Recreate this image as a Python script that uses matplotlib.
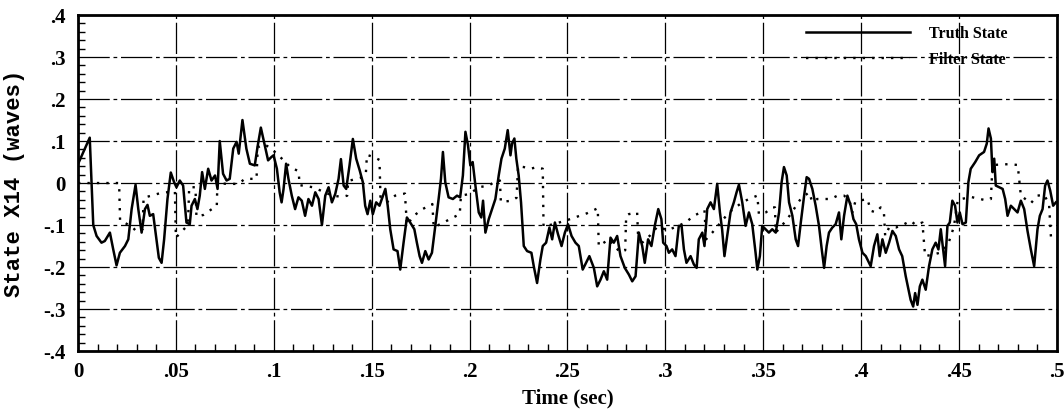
import matplotlib
matplotlib.use("Agg")
import matplotlib.pyplot as plt
import numpy as np

# truth state X14 (waves)
truth_t = [0.0, 0.006, 0.0078, 0.0095, 0.012, 0.0137, 0.0163, 0.018, 0.0197, 0.0214,
           0.024, 0.0257, 0.0274, 0.0294, 0.0308, 0.0325, 0.0342, 0.0355, 0.0367, 0.0384,
           0.0401, 0.0413, 0.0427, 0.044, 0.0457, 0.0474, 0.0491, 0.0503, 0.052, 0.0537,
           0.0554, 0.0571, 0.058, 0.0597, 0.061, 0.0622, 0.0634, 0.0648, 0.0665, 0.0682,
           0.07, 0.0713, 0.0724, 0.0741, 0.0759, 0.0775, 0.0793, 0.081, 0.0821, 0.084,
           0.086, 0.0878, 0.0903, 0.0917, 0.0934, 0.0954, 0.0971, 0.0988, 0.0999, 0.1016,
           0.103, 0.104, 0.105, 0.1063, 0.1075, 0.1092, 0.1109, 0.1126, 0.1143, 0.116,
           0.1177, 0.1195, 0.1212, 0.1229, 0.1246, 0.1263, 0.128, 0.1297, 0.1314, 0.1331,
           0.1343, 0.1357, 0.137, 0.1387, 0.1404, 0.1421, 0.1439, 0.1455, 0.1467, 0.1479,
           0.1493, 0.1506, 0.1523, 0.154, 0.1558, 0.157, 0.1582, 0.1595, 0.1612, 0.1632,
           0.1646, 0.1663, 0.168, 0.1697, 0.1718, 0.1731, 0.1745, 0.1757, 0.1774, 0.1791,
           0.1808, 0.1825, 0.1842, 0.1854, 0.1864, 0.1876, 0.1893, 0.1915, 0.1936, 0.1952,
           0.1966, 0.1979, 0.1992, 0.2004, 0.2016, 0.203, 0.2047, 0.206, 0.2069, 0.2081,
           0.2098, 0.2115, 0.2132, 0.2149, 0.2163, 0.218, 0.2195, 0.2209, 0.2217, 0.2229,
           0.2239, 0.2251, 0.2263, 0.2277, 0.2294, 0.2316, 0.2328, 0.2345, 0.2362, 0.2374,
           0.2391, 0.2408, 0.2422, 0.2436, 0.2452, 0.247, 0.2487, 0.2503, 0.2521, 0.2541,
           0.2558, 0.2578, 0.2595, 0.2612, 0.2635, 0.2652, 0.2669, 0.2686, 0.2703, 0.272,
           0.2737, 0.2754, 0.2771, 0.2793, 0.2814, 0.2831, 0.2848, 0.2865, 0.2882, 0.2895,
           0.2912, 0.2929, 0.2946, 0.2964, 0.298, 0.2989, 0.3006, 0.3018, 0.3035, 0.3052,
           0.3069, 0.3083, 0.3095, 0.3108, 0.3129, 0.3146, 0.316, 0.3171, 0.3189, 0.32,
           0.3214, 0.3231, 0.3248, 0.3265, 0.3279, 0.329, 0.3302, 0.3316, 0.3333, 0.335,
           0.3364, 0.3376, 0.3393, 0.341, 0.3427, 0.3444, 0.3461, 0.347, 0.3483, 0.3495,
           0.3512, 0.3529, 0.3546, 0.3564, 0.3581, 0.3594, 0.3606, 0.362, 0.3632, 0.3649,
           0.3666, 0.3678, 0.3692, 0.3709, 0.3722, 0.3734, 0.3751, 0.3768, 0.3785, 0.3799,
           0.3811, 0.3824, 0.3836, 0.3853, 0.387, 0.3887, 0.3899, 0.3913, 0.393, 0.3947,
           0.3961, 0.3975, 0.3989, 0.4007, 0.4024, 0.4049, 0.4066, 0.4083, 0.4095, 0.4109,
           0.4126, 0.4143, 0.416, 0.4177, 0.4194, 0.421, 0.4228, 0.4242, 0.4253, 0.4266,
           0.4276, 0.4288, 0.43, 0.4313, 0.433, 0.4347, 0.4364, 0.4381, 0.4395, 0.4407,
           0.4419, 0.4429, 0.4441, 0.4453, 0.4466, 0.448, 0.4492, 0.4504, 0.4518, 0.4535,
           0.4548, 0.456, 0.4583, 0.4603, 0.4628, 0.4642, 0.4651, 0.4663, 0.4671, 0.468,
           0.4688, 0.4706, 0.4723, 0.4736, 0.4748, 0.4765, 0.4782, 0.4799, 0.4816, 0.4833,
           0.485, 0.4867, 0.4884, 0.4901, 0.4913, 0.4927, 0.494, 0.4952, 0.4966, 0.4981,
           0.4995]
truth_x = [0.045, 0.108, -0.1, -0.126, -0.142, -0.138, -0.118, -0.158, -0.196, -0.166,
           -0.15, -0.134, -0.062, -0.004, -0.062, -0.118, -0.062, -0.052, -0.078, -0.074,
           -0.134, -0.178, -0.19, -0.134, -0.038, 0.025, 0.002, -0.01, 0.006, -0.006,
           -0.094, -0.098, -0.054, -0.038, -0.062, -0.03, 0.026, -0.014, 0.034, 0.006,
           0.018, -0.014, 0.1, 0.022, 0.006, 0.01, 0.082, 0.098, 0.07, 0.15,
           0.082, 0.046, 0.042, 0.086, 0.132, 0.09, 0.054, 0.062, 0.066, 0.034,
           -0.022, -0.046, -0.014, 0.046, 0.01, -0.03, -0.062, -0.034, -0.042, -0.078,
           -0.038, -0.054, -0.022, -0.038, -0.1, -0.03, -0.01, -0.046, -0.026, 0.01,
           0.057, -0.006, -0.014, 0.042, 0.105, 0.058, 0.03, 0.002, -0.054, -0.074,
           -0.042, -0.074, -0.046, -0.054, -0.03, -0.014, -0.054, -0.11, -0.158, -0.162,
           -0.206, -0.142, -0.082, -0.094, -0.11, -0.142, -0.174, -0.19, -0.162, -0.182,
           -0.166, -0.102, -0.038, 0.01, 0.074, 0.002, -0.034, -0.038, -0.03, -0.034,
           0.018, 0.122, 0.09, 0.042, 0.05, -0.006, -0.07, -0.082, -0.042, -0.118,
           -0.086, -0.062, -0.038, 0.018, 0.058, 0.082, 0.126, 0.066, 0.094, 0.106,
           0.058, 0.018, -0.046, -0.15, -0.162, -0.166, -0.198, -0.238, -0.182, -0.15,
           -0.142, -0.106, -0.134, -0.094, -0.122, -0.15, -0.118, -0.098, -0.126, -0.142,
           -0.15, -0.206, -0.19, -0.174, -0.202, -0.246, -0.23, -0.21, -0.23, -0.13,
           -0.142, -0.126, -0.174, -0.202, -0.218, -0.234, -0.222, -0.118, -0.15, -0.19,
           -0.134, -0.15, -0.102, -0.062, -0.086, -0.142, -0.15, -0.166, -0.158, -0.174,
           -0.102, -0.102, -0.158, -0.19, -0.174, -0.194, -0.202, -0.134, -0.118, -0.15,
           -0.062, -0.046, -0.062, -0.002, -0.07, -0.11, -0.174, -0.126, -0.07, -0.046,
           -0.022, -0.004, -0.046, -0.102, -0.07, -0.098, -0.166, -0.206, -0.174, -0.102,
           -0.11, -0.118, -0.11, -0.118, -0.07, 0.002, 0.038, 0.018, -0.046, -0.078,
           -0.134, -0.15, -0.094, -0.03, 0.014, 0.01, -0.014, -0.054, -0.102, -0.158,
           -0.202, -0.15, -0.118, -0.106, -0.098, -0.07, -0.134, -0.078, -0.03, -0.054,
           -0.086, -0.098, -0.134, -0.166, -0.174, -0.198, -0.15, -0.122, -0.174, -0.134,
           -0.166, -0.142, -0.114, -0.126, -0.158, -0.174, -0.222, -0.254, -0.278, -0.294,
           -0.262, -0.29, -0.246, -0.23, -0.254, -0.198, -0.158, -0.142, -0.158, -0.11,
           -0.158, -0.198, -0.102, -0.094, -0.042, -0.054, -0.094, -0.07, -0.098, -0.094,
           0.002, 0.034, 0.05, 0.066, 0.074, 0.094, 0.13, 0.106, 0.026, 0.058,
           -0.006, -0.01, -0.014, -0.038, -0.078, -0.054, -0.062, -0.07, -0.042, -0.062,
           -0.114, -0.158, -0.198, -0.11, -0.078, -0.062, -0.006, 0.006, -0.018, -0.054,
           -0.046]

# filter estimate of X14
filter_t = [0.0, 0.021, 0.0215, 0.024, 0.0276, 0.0302, 0.033, 0.0335, 0.0383, 0.042,
            0.047, 0.0495, 0.05, 0.052, 0.0547, 0.0562, 0.0568, 0.06, 0.0605, 0.064,
            0.069, 0.0709, 0.0712, 0.076, 0.082, 0.0852, 0.0895, 0.0912, 0.0918, 0.095,
            0.098, 0.1033, 0.1084, 0.1127, 0.1132, 0.12, 0.125, 0.13, 0.135, 0.1375,
            0.138, 0.144, 0.147, 0.1476, 0.151, 0.154, 0.1545, 0.158, 0.162, 0.167,
            0.168, 0.1715, 0.176, 0.181, 0.1817, 0.185, 0.19, 0.195, 0.1956, 0.2,
            0.2047, 0.2098, 0.214, 0.2155, 0.216, 0.2217, 0.224, 0.2248, 0.2277, 0.2311,
            0.2345, 0.2374, 0.2378, 0.245, 0.25, 0.255, 0.26, 0.2655, 0.266, 0.2712,
            0.274, 0.277, 0.2795, 0.28, 0.2814, 0.2856, 0.2863, 0.2924, 0.2959, 0.301,
            0.3052, 0.3103, 0.3146, 0.32, 0.3208, 0.324, 0.329, 0.3325, 0.3359, 0.3393,
            0.3427, 0.347, 0.3478, 0.3513, 0.3547, 0.356, 0.3564, 0.3623, 0.3657, 0.3691,
            0.3734, 0.3751, 0.3776, 0.3845, 0.3879, 0.3913, 0.394, 0.3955, 0.397, 0.399,
            0.4032, 0.405, 0.4075, 0.41, 0.4117, 0.4123, 0.4143, 0.4177, 0.4211, 0.4254,
            0.4279, 0.4313, 0.4327, 0.437, 0.441, 0.4445, 0.4474, 0.4494, 0.456, 0.4627,
            0.4663, 0.4671, 0.4756, 0.48, 0.4816, 0.4867, 0.4901, 0.4935, 0.496, 0.497,
            0.5]
filter_x = [0.0, 0.0, -0.09, -0.095, -0.104, -0.117, -0.11, -0.035, -0.029, -0.024,
            -0.021, -0.02, -0.13, -0.12, -0.107, -0.095, -0.01, -0.01, -0.08, -0.076,
            -0.06, -0.055, 0.0, -0.002, -0.002, 0.01, 0.01, 0.01, 0.085, 0.092,
            0.085, 0.062, 0.038, 0.028, -0.005, -0.01, -0.02, -0.03, -0.033, -0.03,
            0.005, 0.012, 0.02, 0.067, 0.062, 0.055, -0.033, -0.045, -0.03, -0.025,
            -0.1, -0.078, -0.062, -0.05, -0.105, -0.098, -0.086, -0.074, -0.03, -0.026,
            -0.01, -0.006, 0.006, 0.006, -0.045, -0.042, -0.035, 0.04, 0.038, 0.034,
            0.038, 0.034, -0.104, -0.095, -0.088, -0.08, -0.072, -0.06, -0.15, -0.134,
            -0.15, -0.165, -0.16, -0.078, -0.074, -0.07, -0.15, -0.124, -0.104, -0.112,
            -0.105, -0.094, -0.078, -0.065, -0.134, -0.118, -0.09, -0.07, -0.058, -0.046,
            -0.038, -0.03, -0.074, -0.07, -0.058, -0.058, -0.118, -0.086, -0.062, -0.038,
            -0.022, -0.045, -0.038, -0.038, -0.03, -0.03, -0.04, -0.07, -0.045, -0.042,
            -0.038, -0.066, -0.07, -0.058, -0.074, -0.126, -0.106, -0.106, -0.1, -0.09,
            -0.1, -0.094, -0.174, -0.17, -0.165, -0.145, -0.104, -0.04, -0.033, -0.04,
            -0.038, 0.043, 0.045, 0.043, -0.03, -0.048, -0.03, -0.028, -0.05, -0.13,
            -0.13]

x_ticks = [0, 0.05, 0.1, 0.15, 0.2, 0.25, 0.3, 0.35, 0.4, 0.45, 0.5]
x_labels = ['0', '.05', '.1', '.15', '.2', '.25', '.3', '.35', '.4', '.45', '.5']
y_ticks = [-0.4, -0.3, -0.2, -0.1, 0, 0.1, 0.2, 0.3, 0.4]
y_labels = ['-.4', '-.3', '-.2', '-.1', '0', '.1', '.2', '.3', '.4']

serif = ['Liberation Serif', 'DejaVu Serif']
mono = ['Liberation Mono', 'DejaVu Sans Mono']

fig = plt.figure(figsize=(10.64, 4.13), dpi=100)
ax = fig.add_axes([0.0733, 0.150, 0.920, 0.8136])

ax.plot(truth_t, truth_x, color='black', lw=1.8, label='Truth State')
ax.plot(filter_t, filter_x, color='black', lw=1.7, linestyle=(0, (1, 3)),
        label='Filter State')

ax.set_xlim(0, 0.5)
ax.set_ylim(-0.4, 0.4)
ax.set_xticks(x_ticks)
ax.set_xticklabels(x_labels, family=serif, fontweight='bold', fontsize=15)
ax.set_yticks(y_ticks)
ax.set_yticklabels(y_labels, family=serif, fontweight='bold', fontsize=15)
ax.set_xticks(np.arange(0, 0.501, 0.01), minor=True)
ax.set_yticks(np.arange(-0.4, 0.401, 0.02), minor=True)
ax.tick_params(which='major', direction='in', length=0)
ax.tick_params(which='minor', direction='in', length=5, width=1)
ax.tick_params(axis='x', which='major', pad=8)
ax.tick_params(axis='y', which='major', pad=9)

ax.grid(True, which='major', color='black', lw=0.9, linestyle=(0, (25, 3, 3, 3)))

for s in ax.spines.values():
    s.set_linewidth(2)

ax.set_xlabel('Time (sec)', family=serif, fontweight='bold', fontsize=15, va='top')
ax.xaxis.set_label_coords(0.5, -0.112)
ax.set_ylabel('State X14 (waves)', family=mono, fontweight='bold', fontsize=16)
ax.yaxis.set_label_coords(-0.054, 0.5)

leg = ax.legend(loc='upper left', bbox_to_anchor=(0.7436, 0.968), frameon=False,
                handlelength=6.5, handletextpad=1.2, labelspacing=0.62,
                borderpad=0, borderaxespad=0,
                prop={'family': serif, 'weight': 'bold', 'size': 11.5})

fig.savefig('out.png', dpi=100)
